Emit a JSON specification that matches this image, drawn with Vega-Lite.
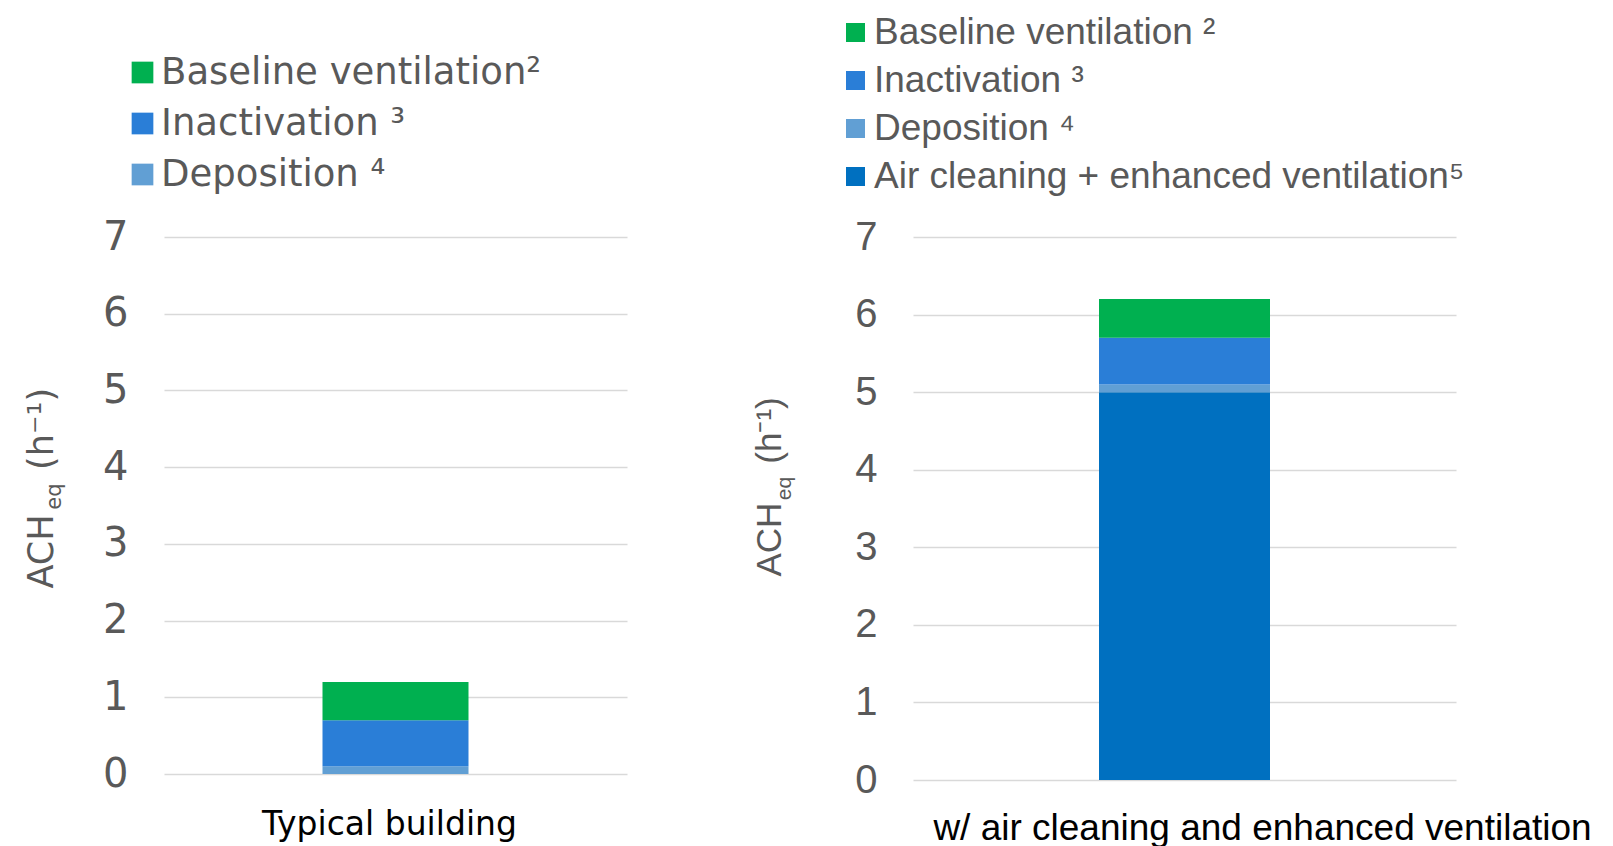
{
  "$schema": "https://vega.github.io/schema/vega-lite/v6.json",
  "autosize": "none",
  "padding": {"left": 164, "top": 237, "right": 1449, "bottom": 609},
  "background": "white",
  "bounds": "flush",
  "spacing": 286,
  "config": {
    "view": {"stroke": null},
    "axis": {"domain": false, "ticks": false, "tickSize": 0, "gridColor": "#D9D9D9", "gridWidth": 1.5},
    "legend": {"padding": 0},
    "bar": {"stroke": null}
  },
  "resolve": {
    "scale": {"color": "independent", "x": "independent", "y": "independent"},
    "legend": {"color": "independent"}
  },
  "hconcat": [
    {
      "width": 463,
      "height": 537,
      "data": {
        "values": [
          {"building": "Typical building", "component": "Deposition", "ach": 0.1, "rank": 1},
          {"building": "Typical building", "component": "Inactivation", "ach": 0.6, "rank": 2},
          {"building": "Typical building", "component": "Baseline ventilation", "ach": 0.5, "rank": 3}
        ]
      },
      "title": {
        "text": "eq", "orient": "left", "anchor": "middle", "frame": "group",
        "font": "DejaVu Sans", "fontSize": 21, "fontWeight": "normal", "color": "#595959",
        "baseline": "bottom", "offset": -61, "dx": 9
      },
      "mark": {"type": "bar", "width": 146},
      "encoding": {
        "x": {
          "field": "building", "type": "nominal",
          "axis": {"title": null, "labelAngle": 0, "labelFont": "DejaVu Sans", "labelFontSize": 33, "labelColor": "#000000", "labelPadding": 34, "labelOffset": -6, "labelLimit": 1000, "grid": false}
        },
        "y": {
          "field": "ach", "type": "quantitative", "stack": "zero",
          "scale": {"domain": [0, 7], "nice": false},
          "axis": {
            "values": [0, 1, 2, 3, 4, 5, 6, 7], "grid": true,
            "labelFont": "DejaVu Sans", "labelFontSize": 40, "labelColor": "#595959", "labelPadding": 36,
            "title": "ACH\u00a0\u00a0\u00a0\u00a0(h⁻¹)", "titleFont": "DejaVu Sans", "titleFontSize": 35, "titleFontWeight": "normal",
            "titleColor": "#595959", "titlePadding": 43, "titleAlign": "left", "titleY": 351
          }
        },
        "color": {
          "field": "component", "type": "nominal",
          "scale": {
            "domain": ["Baseline ventilation", "Inactivation", "Deposition"],
            "range": ["#00B050", "#2A7ED7", "#619FD4"]
          },
          "legend": {
            "orient": "none", "legendX": -40, "legendY": -183, "direction": "vertical", "title": null,
            "symbolType": "square", "symbolSize": 471, "symbolStrokeWidth": 0,
            "labelFont": "DejaVu Sans", "labelFontSize": 37, "labelColor": "#595959", "labelOffset": 0,
            "labelLimit": 1000, "rowPadding": 13,
            "labelExpr": "datum.label === 'Baseline ventilation' ? 'Baseline ventilation²' : datum.label === 'Inactivation' ? 'Inactivation ³' : 'Deposition ⁴'"
          }
        },
        "order": {"field": "rank", "type": "quantitative"}
      }
    },
    {
      "width": 543,
      "height": 543,
      "data": {
        "values": [
          {"building": "w/ air cleaning and enhanced ventilation", "component": "Air cleaning + enhanced ventilation", "ach": 5.0, "rank": 0},
          {"building": "w/ air cleaning and enhanced ventilation", "component": "Deposition", "ach": 0.1, "rank": 1},
          {"building": "w/ air cleaning and enhanced ventilation", "component": "Inactivation", "ach": 0.6, "rank": 2},
          {"building": "w/ air cleaning and enhanced ventilation", "component": "Baseline ventilation", "ach": 0.5, "rank": 3}
        ]
      },
      "title": {
        "text": "eq", "orient": "left", "anchor": "middle", "frame": "group",
        "font": "Liberation Sans", "fontSize": 21, "fontWeight": "normal", "color": "#595959",
        "baseline": "bottom", "offset": -63, "dx": 20
      },
      "mark": {"type": "bar", "width": 171},
      "encoding": {
        "x": {
          "field": "building", "type": "nominal",
          "axis": {"title": null, "labelAngle": 0, "labelFont": "Liberation Sans", "labelFontSize": 37, "labelColor": "#000000", "labelPadding": 30, "labelOffset": 78, "labelLimit": 1000, "grid": false}
        },
        "y": {
          "field": "ach", "type": "quantitative", "stack": "zero",
          "scale": {"domain": [0, 7], "nice": false},
          "axis": {
            "values": [0, 1, 2, 3, 4, 5, 6, 7], "grid": true,
            "labelFont": "Liberation Sans", "labelFontSize": 40, "labelColor": "#595959", "labelPadding": 36,
            "title": "ACH\u00a0\u00a0\u00a0\u00a0(h⁻¹)", "titleFont": "Liberation Sans", "titleFontSize": 35, "titleFontWeight": "normal",
            "titleColor": "#595959", "titlePadding": 67, "titleAlign": "left", "titleY": 339
          }
        },
        "color": {
          "field": "component", "type": "nominal",
          "scale": {
            "domain": ["Baseline ventilation", "Inactivation", "Deposition", "Air cleaning + enhanced ventilation"],
            "range": ["#00B050", "#2A7ED7", "#619FD4", "#0070C0"]
          },
          "legend": {
            "orient": "none", "legendX": -76, "legendY": -223, "direction": "vertical", "title": null,
            "symbolType": "square", "symbolSize": 361, "symbolStrokeWidth": 0,
            "labelFont": "Liberation Sans", "labelFontSize": 37, "labelColor": "#595959", "labelOffset": 0,
            "labelLimit": 1000, "rowPadding": 10,
            "labelExpr": "datum.label === 'Baseline ventilation' ? 'Baseline ventilation ²' : datum.label === 'Inactivation' ? 'Inactivation ³' : datum.label === 'Deposition' ? 'Deposition ⁴' : 'Air cleaning + enhanced ventilation⁵'"
          }
        },
        "order": {"field": "rank", "type": "quantitative"}
      }
    }
  ]
}
